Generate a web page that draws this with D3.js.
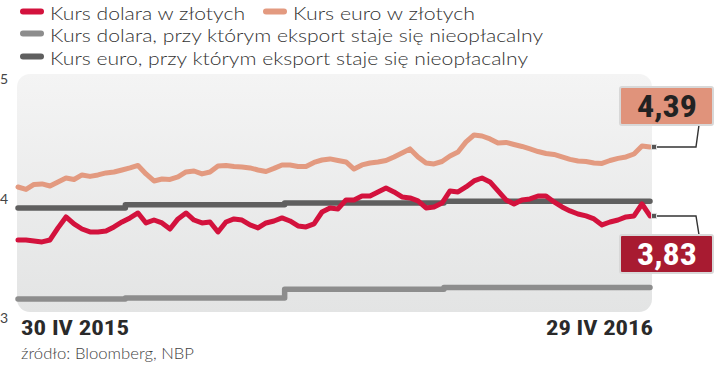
<!DOCTYPE html>
<html><head><meta charset="utf-8">
<script src="https://cdn.jsdelivr.net/npm/d3@7"></script>
<style>
html,body{margin:0;padding:0;background:#fff;}
svg{display:block;}
</style></head>
<body>
<svg id="chart" width="720" height="368"></svg>
<script>
// ---------- data ----------
const startDate = new Date(2015, 3, 30);
const endDate = new Date(2016, 3, 29);
const dateLabels = ["30 IV 2015", "29 IV 2016"];
const yTicks = [5, 4, 3];

const eurPln = [
4.065,4.045,4.086,4.090,4.073,4.106,4.138,4.126,4.163,4.151,
4.163,4.179,4.187,4.203,4.220,4.240,4.171,4.114,4.130,4.126,
4.147,4.187,4.195,4.171,4.187,4.236,4.240,4.232,4.228,4.220,
4.203,4.191,4.216,4.244,4.244,4.232,4.232,4.264,4.284,4.293,
4.280,4.268,4.211,4.244,4.260,4.268,4.280,4.309,4.341,4.374,
4.309,4.260,4.252,4.272,4.317,4.349,4.431,4.487,4.479,4.455,
4.422,4.427,4.410,4.394,4.374,4.353,4.337,4.329,4.309,4.289,
4.276,4.272,4.260,4.256,4.280,4.297,4.309,4.333,4.398,4.390];

const usdPln = [
3.635,3.635,3.627,3.619,3.635,3.733,3.822,3.765,3.724,3.700,
3.700,3.708,3.741,3.781,3.814,3.854,3.773,3.797,3.773,3.724,
3.806,3.854,3.797,3.773,3.781,3.700,3.781,3.806,3.797,3.757,
3.733,3.773,3.789,3.814,3.789,3.749,3.741,3.765,3.862,3.895,
3.887,3.960,3.960,3.992,3.992,4.025,4.057,4.025,3.984,3.976,
3.952,3.895,3.903,3.935,4.033,4.025,4.065,4.114,4.138,4.106,
4.033,3.960,3.927,3.960,3.968,3.992,3.992,3.944,3.903,3.871,
3.846,3.830,3.806,3.757,3.781,3.797,3.822,3.830,3.927,3.830];

const thresholdDates = ["2015-04-30","2015-07-01","2015-10-01","2016-01-01","2016-04-29"];
const usdThreshold = [3.156, 3.164, 3.235, 3.250];
const eurThreshold = [3.895, 3.920, 3.935, 3.950];

const endLabels = ["4,39", "3,83"];
const legendLabels = [
  "Kurs dolara w złotych",
  "Kurs euro w złotych",
  "Kurs dolara, przy którym eksport staje się nieopłacalny",
  "Kurs euro, przy którym eksport staje się nieopłacalny"
];
const sourceText = "źródło: Bloomberg, NBP";

// ---------- styles ----------
const C = {red:"#d3123d", salmon:"#e39a80", grey:"#8d8d8d", dark:"#5f5f5f",
           redBox:"#a81b31", salmonBox:"#e0937b", text:"#333"};
const FONT = "'Liberation Sans Narrow','Roboto Condensed','Arial Narrow','Liberation Sans',sans-serif";
const LIGHT = "Lato,'Liberation Sans',sans-serif";

const svg = d3.select("#chart");
const defs = svg.append("defs");
const grad = defs.append("linearGradient").attr("id","panelGrad").attr("x1",0).attr("x2",0).attr("y1",0).attr("y2",1);
grad.append("stop").attr("offset","0%").attr("stop-color","#f4f4f4");
grad.append("stop").attr("offset","100%").attr("stop-color","#e3e4e4");

const x = d3.scaleTime().domain([startDate, endDate]).range([18, 650]);
const y = d3.scaleLinear().domain([3, 5]).range([318.2, 71.8]);

// panel
svg.append("rect").attr("x",17).attr("y",74).attr("width",635).attr("height",238)
  .attr("rx",13).attr("fill","url(#panelGrad)");

// y tick labels
svg.selectAll("text.ytick").data(yTicks).join("text").attr("class","ytick")
  .attr("x",0).attr("y",d => Math.min(Math.max(y(d)+3, 78), 317))
  .attr("dominant-baseline","central")
  .attr("font-family",LIGHT).attr("font-size",14).attr("fill","#444")
  .text(d => d);

// threshold lines
const parse = d3.timeParse("%Y-%m-%d");
function stepData(vals){
  const pts = vals.map((v,i) => [parse(thresholdDates[i]), v]);
  pts.push([parse(thresholdDates[thresholdDates.length-1]), vals[vals.length-1]]);
  return pts;
}
const stepLine = d3.line().x(d => x(d[0])).y(d => y(d[1])).curve(d3.curveStepAfter);
svg.append("path").datum(stepData(usdThreshold)).attr("d",stepLine)
  .attr("fill","none").attr("stroke",C.grey).attr("stroke-width",5.5).attr("stroke-linecap","round").attr("stroke-linejoin","round");
svg.append("path").datum(stepData(eurThreshold)).attr("d",stepLine)
  .attr("fill","none").attr("stroke",C.dark).attr("stroke-width",5.5).attr("stroke-linecap","round").attr("stroke-linejoin","round");

// rate lines
const n = eurPln.length;
const sampleDates = d3.range(n).map(i => new Date(+startDate + i*(endDate - startDate)/(n-1)));
const rateLine = d3.line().x((d,i) => x(sampleDates[i])).y(d => y(d));
svg.append("path").datum(eurPln).attr("d",rateLine)
  .attr("fill","none").attr("stroke",C.salmon).attr("stroke-width",5).attr("stroke-linecap","round").attr("stroke-linejoin","round");
svg.append("path").datum(usdPln).attr("d",rateLine)
  .attr("fill","none").attr("stroke",C.red).attr("stroke-width",5).attr("stroke-linecap","round").attr("stroke-linejoin","round");

// end annotations
const ann = [
  {v: eurPln[n-1], label: endLabels[0], fill: C.salmonBox, color:"#222", dir:-1},
  {v: usdPln[n-1], label: endLabels[1], fill: C.redBox, color:"#fff", dir:1}
];
ann.forEach(a => {
  const mx = x(endDate) + 4, my = y(a.v);
  const boxY = a.dir < 0 ? my - 22 - 38 : my + 19;
  const edgeY = a.dir < 0 ? boxY + 38 : boxY;
  svg.append("path").attr("d", `M${mx},${my}H${mx+42}L${mx+45},${edgeY}`)
    .attr("fill","none").attr("stroke","#333").attr("stroke-width",1.4);
  svg.append("rect").attr("x",mx-2.5).attr("y",my-2.5).attr("width",5).attr("height",5)
    .attr("fill","#555").attr("stroke","#ddd").attr("stroke-width",1);
  svg.append("rect").attr("x",620).attr("y",boxY).attr("width",93).attr("height",38).attr("rx",2)
    .attr("fill",a.fill).attr("stroke","#d8d8d8").attr("stroke-width",2);
  svg.append("text").attr("x",667).attr("y",boxY+30).attr("text-anchor","middle")
    .attr("font-family",FONT).attr("font-weight","bold").attr("font-size",31).attr("fill",a.color)
    .attr("textLength",60).attr("lengthAdjust","spacingAndGlyphs").text(a.label);
});

// legend
const legendItems = [
  {label: legendLabels[0], color: C.red, sx: 20, tx: 50, base: 20, w: 195},
  {label: legendLabels[1], color: C.salmon, sx: 263, tx: 293, base: 20, w: 182},
  {label: legendLabels[2], color: C.grey, sx: 20, tx: 50, base: 42, w: 493},
  {label: legendLabels[3], color: C.dark, sx: 20, tx: 50, base: 65, w: 478}
];
const lg = svg.append("g");
lg.selectAll("line").data(legendItems).join("line")
  .attr("x1",d => d.sx+3).attr("x2",d => d.sx+21).attr("y1",d => d.base-8.5).attr("y2",d => d.base-8.5)
  .attr("stroke",d => d.color).attr("stroke-width",6).attr("stroke-linecap","round");
lg.selectAll("text").data(legendItems).join("text")
  .attr("x",d => d.tx).attr("y",d => d.base)
  .attr("font-family",LIGHT).attr("font-weight",300).attr("font-size",18.5).attr("fill","#333")
  .attr("textLength",d => d.w).attr("lengthAdjust","spacingAndGlyphs")
  .text(d => d.label);

// date labels
svg.append("text").attr("x",21).attr("y",335).attr("font-family",FONT).attr("font-weight","bold")
  .attr("font-size",21).attr("fill","#2a2a2a").attr("textLength",108).attr("lengthAdjust","spacingAndGlyphs").text(dateLabels[0]);
svg.append("text").attr("x",653).attr("y",335).attr("text-anchor","end").attr("font-family",FONT).attr("font-weight","bold")
  .attr("font-size",21).attr("fill","#2a2a2a").attr("textLength",107).attr("lengthAdjust","spacingAndGlyphs").text(dateLabels[1]);

// source
svg.append("text").attr("x",21).attr("y",359).attr("font-family",LIGHT).attr("font-weight",300)
  .attr("font-size",15).attr("fill","#444").attr("textLength",173).attr("lengthAdjust","spacingAndGlyphs").text(sourceText);
</script>
</body></html>
